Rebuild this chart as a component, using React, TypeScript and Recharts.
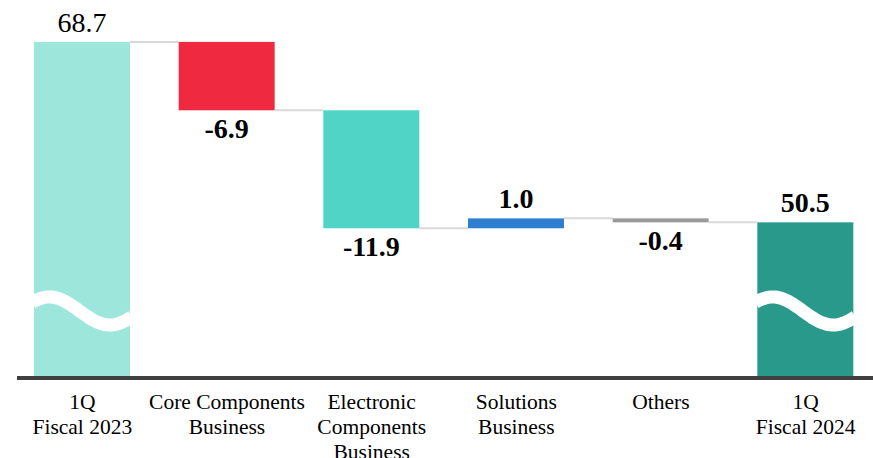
import React from 'react';
import { BarChart, Bar, XAxis, YAxis } from 'recharts';

// waterfall: 1Q FY2023 -> 1Q FY2024, axis broken below AXIS_FLOOR
const CATEGORIES = [
  '1Q\nFiscal 2023',
  'Core Components\nBusiness',
  'Electronic\nComponents\nBusiness',
  'Solutions\nBusiness',
  'Others',
  '1Q\nFiscal 2024',
];
const VALUES = [68.7, -6.9, -11.9, 1.0, -0.4, 50.5];
const IS_TOTAL = [true, false, false, false, false, true];
const VALUE_LABELS = ['68.7', '-6.9', '-11.9', '1.0', '-0.4', '50.5'];
const COLORS = ['#9de6dc', '#ef2a40', '#4fd4c6', '#2f7fd0', '#9a9a9a', '#28998a'];
const AXIS_FLOOR = 34.8;
const AXIS_TOP = 70;

const WIDTH = 878;
const HEIGHT = 458;
const MARGIN = { top: 29, right: 0, left: 10, bottom: 0 };
const BAR_SIZE = 96;
const SERIF = "'Liberation Serif', 'Times New Roman', serif";

const round1 = (v: number) => Math.round(v * 10) / 10;

let running = 0;
const data = CATEGORIES.map((name, i) => {
  const v = VALUES[i];
  let range: [number, number];
  let endsHigh = true;
  if (IS_TOTAL[i]) {
    range = [AXIS_FLOOR, v];
    running = v;
  } else {
    const end = round1(running + v);
    range = [Math.min(running, end), Math.max(running, end)];
    endsHigh = v > 0;
    running = end;
  }
  return {
    name,
    range,
    total: IS_TOTAL[i],
    endsHigh,
    label: VALUE_LABELS[i],
    fill: COLORS[i],
    first: i === 0,
    last: i === CATEGORIES.length - 1,
  };
});

const BAND = (WIDTH - MARGIN.left - MARGIN.right) / CATEGORIES.length;

const WaterfallShape = (props: any) => {
  const { x, y, width, height, payload } = props;
  const top = Math.min(y, y + height);
  const h = Math.abs(height);
  const bottom = top + h;
  const cx = x + width / 2;
  const connY = payload.endsHigh ? top : bottom;

  let wave = null;
  if (payload.total) {
    const cy = bottom - 67;
    const pts: string[] = [];
    for (let k = 0; k <= 40; k++) {
      const t = -0.02 + (1.04 * k) / 40;
      const py = cy - 14 * Math.cos((Math.PI * (t - 0.16)) / 0.63);
      pts.push(`${(x + t * width).toFixed(1)},${py.toFixed(1)}`);
    }
    wave = <polyline points={pts.join(' ')} fill="none" stroke="#fff" strokeWidth={13} />;
  }

  const above = payload.total || payload.endsHigh;
  return (
    <g>
      <rect x={x} y={top} width={width} height={h} fill={payload.fill} />
      {wave}
      {!payload.last && (
        <line x1={x + width} x2={x + width + (BAND - width)} y1={connY} y2={connY} stroke="#d9d9d9" strokeWidth={2} />
      )}
      <text
        x={cx}
        y={above ? top - 10 : bottom + 28}
        textAnchor="middle"
        fontFamily={SERIF}
        fontSize={28}
        fontWeight={payload.first ? 'normal' : 'bold'}
        fill="#000"
      >
        {payload.label}
      </text>
    </g>
  );
};

const CategoryTick = (props: any) => {
  const { x, y, payload } = props;
  const lines = String(payload.value).split('\n');
  return (
    <text x={x} y={y + 28.5} textAnchor="middle" fontFamily={SERIF} fontSize={21.5} fill="#000">
      {lines.map((ln, i) => (
        <tspan key={i} x={x} dy={i === 0 ? 0 : 25}>
          {ln}
        </tspan>
      ))}
    </text>
  );
};

export default function App() {
  return (
    <div style={{ position: 'absolute', left: 0, top: 0, width: 873, height: HEIGHT, overflow: 'hidden', background: '#fff' }}>
      <BarChart width={WIDTH} height={HEIGHT} data={data} margin={MARGIN} barSize={BAR_SIZE}>
        <XAxis
          dataKey="name"
          height={80}
          interval={0}
          tickLine={false}
          tickSize={0}
          axisLine={{ stroke: '#404040', strokeWidth: 4, strokeDasharray: '0 7 2000' }}
          tick={<CategoryTick />}
        />
        <YAxis hide domain={[AXIS_FLOOR, AXIS_TOP]} />
        <Bar dataKey="range" shape={<WaterfallShape />} isAnimationActive={false} />
      </BarChart>
    </div>
  );
}
